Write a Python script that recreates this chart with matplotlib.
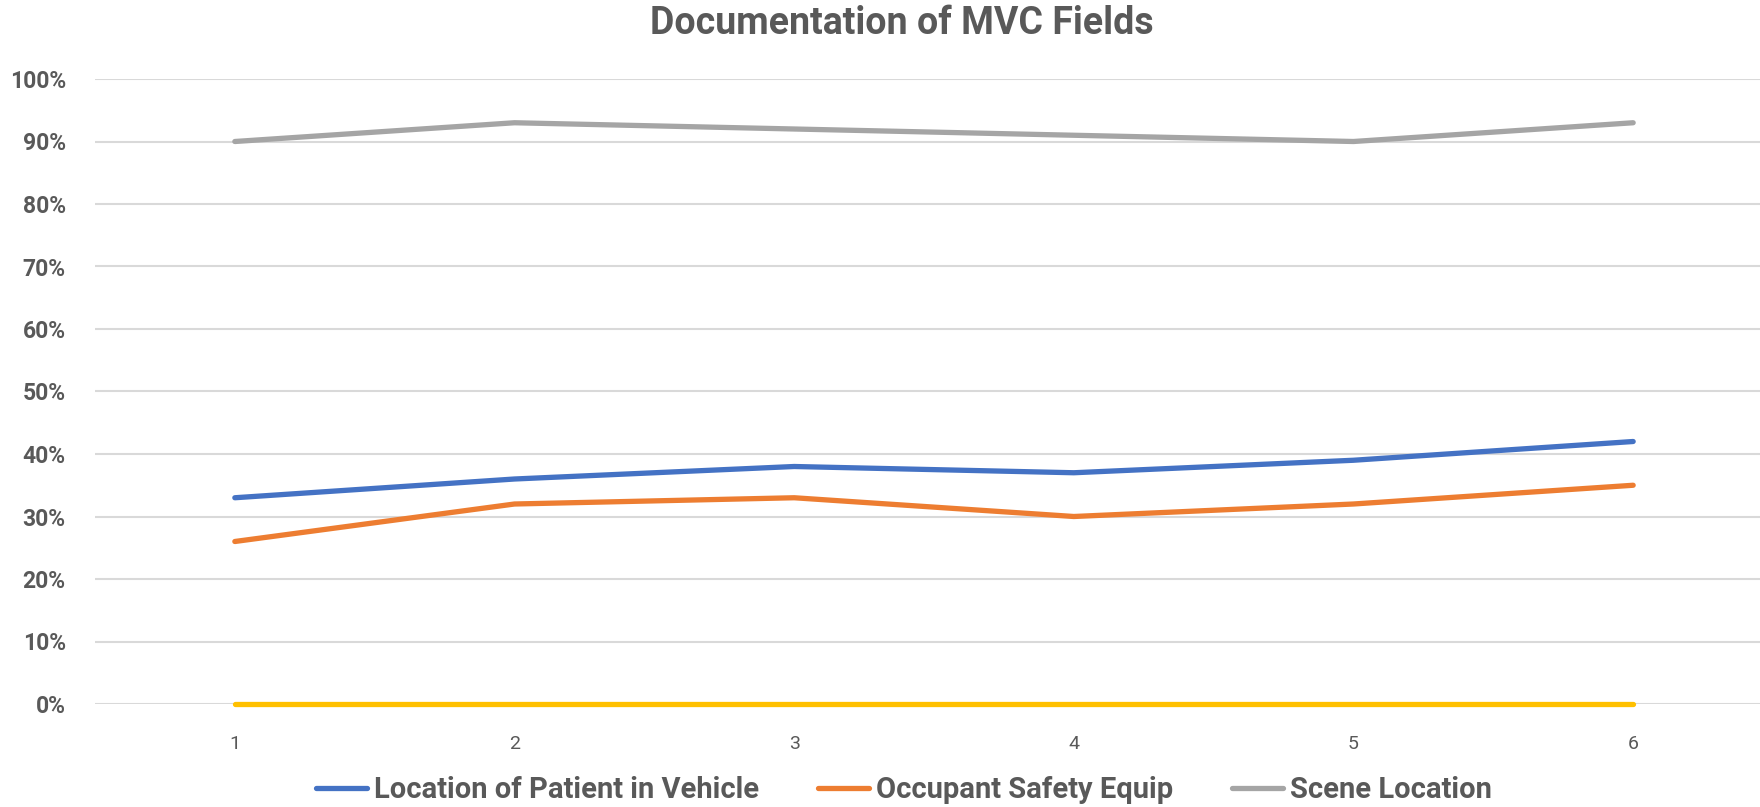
import matplotlib
matplotlib.use("Agg")
import matplotlib.pyplot as plt
from matplotlib.ticker import FuncFormatter, MultipleLocator

categories = [1, 2, 3, 4, 5, 6]
location_patient = [0.33, 0.36, 0.38, 0.37, 0.39, 0.42]
occupant_safety = [0.26, 0.32, 0.33, 0.30, 0.32, 0.35]
scene_location = [0.90, 0.93, 0.92, 0.91, 0.90, 0.93]
fourth_series = [0.0, 0.0, 0.0, 0.0, 0.0, 0.0]
labels = ["Location of Patient in Vehicle", "Occupant Safety Equip", "Scene Location"]
title = "Documentation of MVC Fields"

W, H = 1760, 807
fig = plt.figure(figsize=(W / 100, H / 100), dpi=100)
ax = fig.add_axes([95 / W, (H - 704) / H, (1773 - 95) / W, 625 / H])

txt = "#595959"
lw = 3.8
h1, = ax.plot(categories, location_patient, color="#4472C4", lw=lw, solid_capstyle="round", solid_joinstyle="round", zorder=3)
h2, = ax.plot(categories, occupant_safety, color="#ED7D31", lw=lw, solid_capstyle="round", solid_joinstyle="round", zorder=3)
h3, = ax.plot(categories, scene_location, color="#A5A5A5", lw=lw, solid_capstyle="round", solid_joinstyle="round", zorder=3)
ax.plot(categories, fourth_series, color="#FFC000", lw=lw, solid_capstyle="round", zorder=4, clip_on=False)

ax.set_xlim(0.5, 6.5)
ax.set_ylim(0, 1.0)
ax.yaxis.set_major_locator(MultipleLocator(0.1))
ax.yaxis.set_major_formatter(FuncFormatter(lambda v, p: f"{round(v*100)}%"))
ax.set_xticks(categories)
ax.grid(axis="y", color="#D9D9D9", lw=1.5, zorder=0)
for s in ax.spines.values():
    s.set_visible(False)
ax.tick_params(axis="both", length=0)
ax.tick_params(axis="y", pad=21)
ax.tick_params(axis="x", pad=22)
for t in ax.get_yticklabels():
    t.set_fontfamily("Roboto")
    t.set_fontweight("bold")
    t.set_fontsize(16.5)
    t.set_color(txt)
for t in ax.get_xticklabels():
    t.set_fontfamily("Roboto")
    t.set_fontsize(14)
    t.set_color(txt)

fig.text(902 / W, 1 - 24 / H, title, ha="center", va="center", fontsize=27,
         fontweight="bold", family="Roboto", color=txt)

leg = fig.legend([h1, h2, h3], labels, loc="center", bbox_to_anchor=(904 / W, 1 - 790 / H),
                 ncol=3, frameon=False, handlelength=1.75, handletextpad=0.25, columnspacing=2.0,
                 prop={"family": "Roboto", "weight": "bold", "size": 21})
for t in leg.get_texts():
    t.set_color(txt)

fig.savefig("out.png", dpi=100)
